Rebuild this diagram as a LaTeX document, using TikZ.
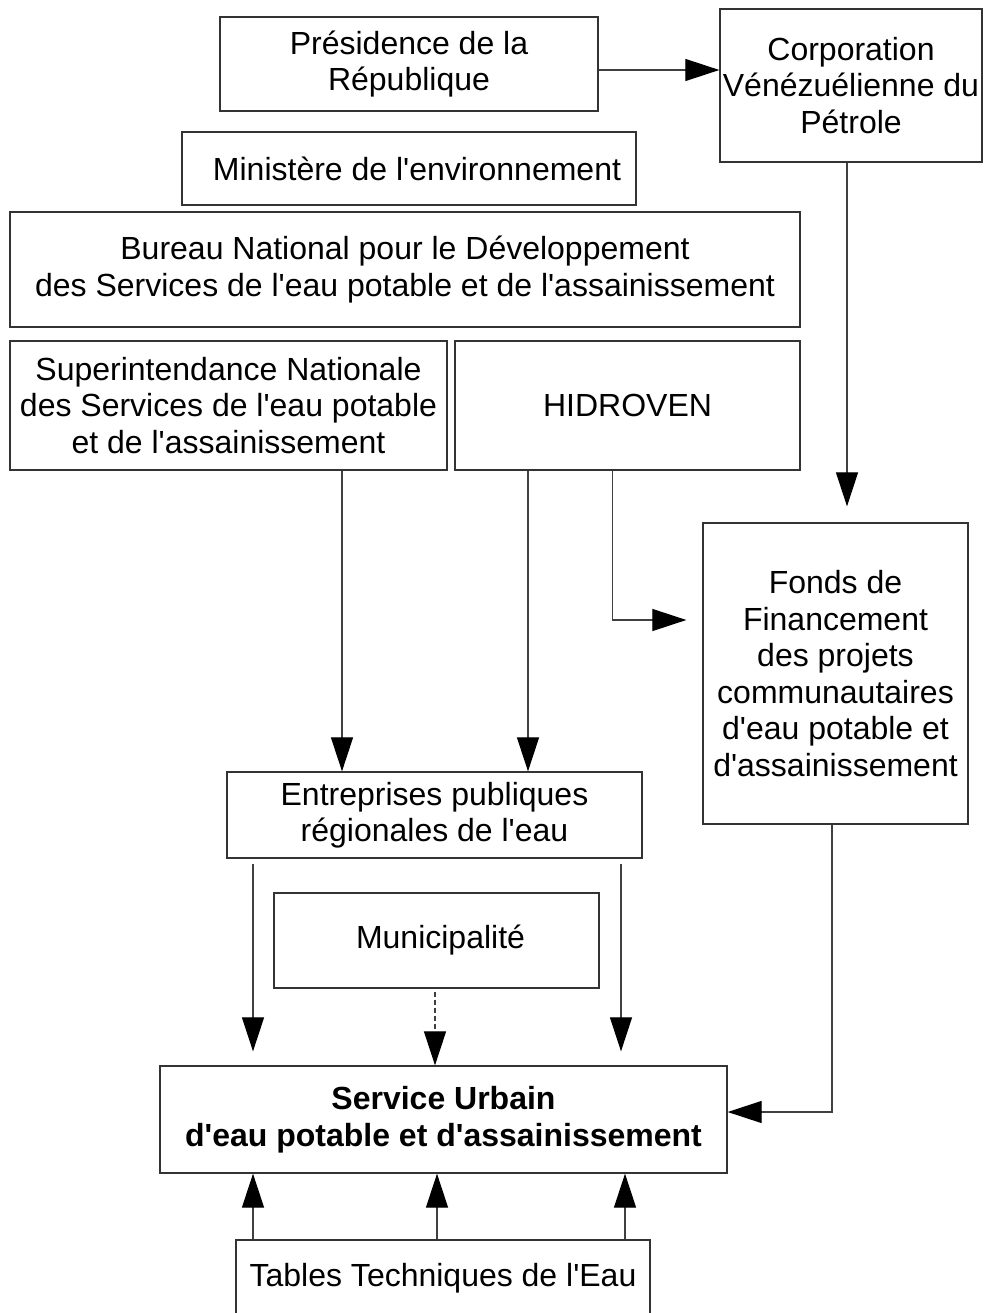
\documentclass[tikz,border=0pt]{standalone}
\usepackage{fontspec}
\setmainfont{Liberation Sans}[Ligatures=TeXOff]
\usetikzlibrary{arrows.meta}
\begin{document}
\begin{tikzpicture}[x=1pt,y=-1pt,
  box/.style={draw=black!80, line width=1.3pt, fill=white, align=center, inner sep=0pt,
    font=\fontsize{32}{36.5}\selectfont},
  conn/.style={draw=black!75, line width=1.2pt},
  arr/.style={conn, -{Triangle[length=34pt, width=22pt, fill=black, color=black]}},
  dsh/.style={arr, dash pattern=on 5pt off 3pt}]
\useasboundingbox (0,0) rectangle (985,1313);
\clip (0,0) rectangle (985,1313);
\fill[white] (0,0) rectangle (985,1313);

\node[box, minimum width=378pt, minimum height=94pt] (pres) at (409,64) {Présidence de la\\République};
\node[box, minimum width=262pt, minimum height=153pt] (cvp) at (851,85.5) {Corporation\\Vénézuélienne du\\Pétrole};
\node[box, minimum width=454pt, minimum height=73pt] (min) at (409,168.5) {\hspace{16pt}Ministère de l'environnement};
\node[box, minimum width=790pt, minimum height=115pt] (bur) at (405,269.5) {Bureau National pour le Développement\\des Services de l'eau potable et de l'assainissement};
\node[box, minimum width=437pt, minimum height=129pt] (sup) at (228.5,405.5) {Superintendance Nationale\\des Services de l'eau potable\\et de l'assainissement};
\node[box, minimum width=345pt, minimum height=129pt] (hid) at (627.5,405.5) {HIDROVEN};
\node[box, minimum width=265pt, minimum height=301pt] (fonds) at (835.5,673.5) {Fonds de\\Financement\\des projets\\communautaires\\d'eau potable et\\d'assainissement};
\node[box, minimum width=415pt, minimum height=86pt] (ent) at (434.5,815) {Entreprises publiques\\régionales de l'eau};
\node[box, minimum width=325pt, minimum height=95pt] (mun) at (436.5,940.5) {\hspace{8pt}Municipalité};
\node[box, minimum width=567pt, minimum height=107pt] (serv) at (443.5,1119.5) {\bfseries Service Urbain\\\bfseries d'eau potable et d'assainissement};
\node[box, minimum width=414pt, minimum height=76pt] (tab) at (443,1278) {Tables Techniques de l'Eau};

% connectors
\draw[arr] ([yshift=-6pt]pres.east) -- ([yshift=-6pt]pres.east -| cvp.west);
\draw[arr] ([xshift=-4pt]cvp.south) -- ([xshift=-4pt,yshift=16pt]cvp.south |- fonds.north);
\draw[arr] ([xshift=113.5pt]sup.south) -- ([xshift=113.5pt]sup.south |- ent.north);
\draw[arr] ([xshift=-99.5pt]hid.south) -- ([xshift=-99.5pt]hid.south |- ent.north);
\draw[arr] ([xshift=-15pt]hid.south) |- ([xshift=-16pt,yshift=53.5pt]fonds.west);
\draw[arr] ([xshift=-181.5pt,yshift=-5pt]ent.south) -- ([xshift=-181.5pt,yshift=14pt]ent.south |- serv.north);
\draw[arr] ([xshift=186.5pt,yshift=-5pt]ent.south) -- ([xshift=186.5pt,yshift=14pt]ent.south |- serv.north);
\draw[dsh] ([xshift=-1.5pt,yshift=-3pt]mun.south) -- ([xshift=-1.5pt]mun.south |- serv.north);
\draw[arr] ([xshift=-3.5pt]fonds.south) |- ([yshift=7.5pt]serv.east);
\draw[arr] ([xshift=-190pt]tab.north) -- ([xshift=-190pt]tab.north |- serv.south);
\draw[arr] ([xshift=-6pt]tab.north) -- ([xshift=-6pt]tab.north |- serv.south);
\draw[arr] ([xshift=182pt]tab.north) -- ([xshift=182pt]tab.north |- serv.south);
\end{tikzpicture}
\end{document}
